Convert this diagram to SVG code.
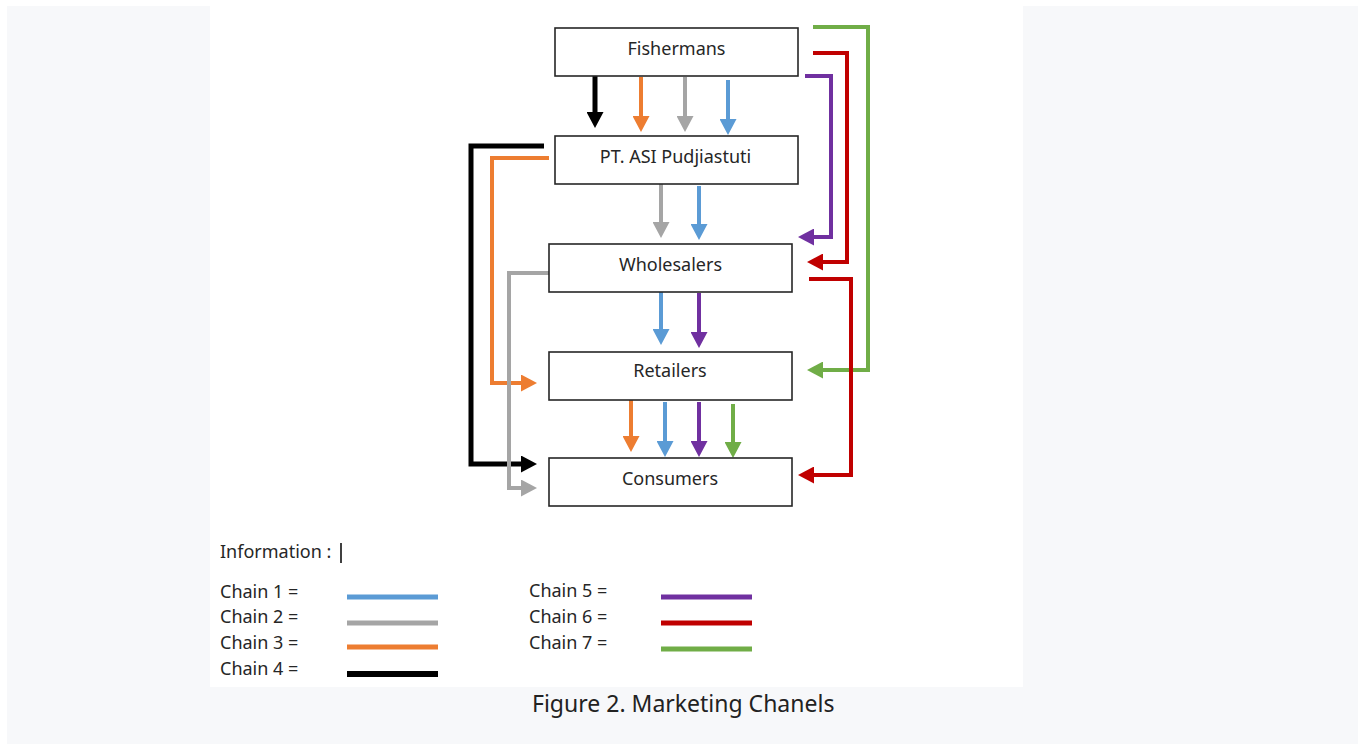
<svg xmlns="http://www.w3.org/2000/svg" width="1361" height="745" viewBox="0 0 1361 745">
<style>
.box{fill:#ffffff;stroke:#262626;stroke-width:1.6}
.lbl{font-family:"Noto Sans",sans-serif;font-size:18px;fill:#262626;text-anchor:middle}
.leg{font-family:"Noto Sans",sans-serif;font-size:18px;fill:#262626}
.cap{font-family:"Noto Sans",sans-serif;font-size:23px;fill:#222222}
.c{fill:none;stroke-width:4;stroke-linejoin:miter}
.c1{stroke:#5b9bd5}.c2{stroke:#a5a5a5}.c3{stroke:#ed7d31}.c4{stroke:#000000;stroke-width:5}
.c5{stroke:#7030a0}.c6{stroke:#c00000}.c7{stroke:#70ad47}
.lg{stroke-width:5}
</style>
<defs>
<marker id="m1" viewBox="0 0 16 17" refX="1" refY="8.5" markerWidth="16" markerHeight="17" markerUnits="userSpaceOnUse" orient="auto"><path d="M0,0 L16,8.5 L0,17 Z" fill="#5b9bd5"/></marker>
<marker id="m2" viewBox="0 0 16 17" refX="1" refY="8.5" markerWidth="16" markerHeight="17" markerUnits="userSpaceOnUse" orient="auto"><path d="M0,0 L16,8.5 L0,17 Z" fill="#a5a5a5"/></marker>
<marker id="m3" viewBox="0 0 16 17" refX="1" refY="8.5" markerWidth="16" markerHeight="17" markerUnits="userSpaceOnUse" orient="auto"><path d="M0,0 L16,8.5 L0,17 Z" fill="#ed7d31"/></marker>
<marker id="m4" viewBox="0 0 16 17" refX="1" refY="8.5" markerWidth="16" markerHeight="17" markerUnits="userSpaceOnUse" orient="auto"><path d="M0,0 L16,8.5 L0,17 Z" fill="#000000"/></marker>
<marker id="m5" viewBox="0 0 16 17" refX="1" refY="8.5" markerWidth="16" markerHeight="17" markerUnits="userSpaceOnUse" orient="auto"><path d="M0,0 L16,8.5 L0,17 Z" fill="#7030a0"/></marker>
<marker id="m6" viewBox="0 0 16 17" refX="1" refY="8.5" markerWidth="16" markerHeight="17" markerUnits="userSpaceOnUse" orient="auto"><path d="M0,0 L16,8.5 L0,17 Z" fill="#c00000"/></marker>
<marker id="m7" viewBox="0 0 16 17" refX="1" refY="8.5" markerWidth="16" markerHeight="17" markerUnits="userSpaceOnUse" orient="auto"><path d="M0,0 L16,8.5 L0,17 Z" fill="#70ad47"/></marker>
</defs>
<rect x="0" y="0" width="1361" height="745" fill="#ffffff"/>
<rect x="7" y="6" width="1351" height="738" fill="#f7f8fa"/>
<rect x="210" y="6" width="813" height="681" fill="#ffffff"/>

<g id="connectors">
<path class="c c4" d="M595,73 V113" marker-end="url(#m4)"/>
<path class="c c3" d="M641,77 V117" marker-end="url(#m3)"/>
<path class="c c2" d="M685,77 V117" marker-end="url(#m2)"/>
<path class="c c1" d="M728,80 V120" marker-end="url(#m1)"/>
<path class="c c2" d="M661,184 V223" marker-end="url(#m2)"/>
<path class="c c1" d="M699,186 V225" marker-end="url(#m1)"/>
<path class="c c1" d="M661,290 V330" marker-end="url(#m1)"/>
<path class="c c5" d="M699,293 V333" marker-end="url(#m5)"/>
<path class="c c3" d="M631,398 V437" marker-end="url(#m3)"/>
<path class="c c1" d="M665,402 V442" marker-end="url(#m1)"/>
<path class="c c5" d="M699,402 V442" marker-end="url(#m5)"/>
<path class="c c7" d="M733,404 V443" marker-end="url(#m7)"/>
<path class="c c4" d="M544,146 H471 V464 H522" marker-end="url(#m4)"/>
<path class="c c3" d="M549,158 H492 V383 H522" marker-end="url(#m3)"/>
<path class="c c2" d="M549,273 H509 V488 H522" marker-end="url(#m2)"/>
<path class="c c7" d="M813,27 H868 V370 H822" marker-end="url(#m7)"/>
<path class="c c6" d="M813,53 H847 V262 H822" marker-end="url(#m6)"/>
<path class="c c5" d="M805,76 H831 V237 H813" marker-end="url(#m5)"/>
<path class="c c6" d="M809,279 H851 V475 H813" marker-end="url(#m6)"/>
</g>

<g id="fishermans"><rect class="box" x="555" y="28" width="243" height="48"/><text class="lbl" x="676.5" y="55">Fishermans</text></g>
<g id="pt-asi"><rect class="box" x="555" y="136" width="243" height="48"/><text class="lbl" x="675.5" y="163">PT. ASI Pudjiastuti</text></g>
<g id="wholesalers"><rect class="box" x="549" y="244" width="243" height="48"/><text class="lbl" x="670.5" y="271">Wholesalers</text></g>
<g id="retailers"><rect class="box" x="549" y="352" width="243" height="48"/><text class="lbl" x="670" y="377">Retailers</text></g>
<g id="consumers"><rect class="box" x="549" y="458" width="243" height="48"/><text class="lbl" x="670" y="485">Consumers</text></g>

<g id="legend">
<text class="leg" x="220" y="558">Information :</text>
<line x1="341" y1="543" x2="341" y2="563" stroke="#000" stroke-width="1.5"/>
<text class="leg" x="220" y="598">Chain 1 =</text>
<text class="leg" x="220" y="623">Chain 2 =</text>
<text class="leg" x="220" y="649">Chain 3 =</text>
<text class="leg" x="220" y="675">Chain 4 =</text>
<text class="leg" x="529" y="597">Chain 5 =</text>
<text class="leg" x="529" y="623">Chain 6 =</text>
<text class="leg" x="529" y="649">Chain 7 =</text>
<line class="c c1 lg" x1="347" y1="597" x2="438" y2="597"/>
<line class="c c2 lg" x1="347" y1="623" x2="438" y2="623"/>
<line class="c c3 lg" x1="347" y1="647" x2="438" y2="647"/>
<line class="c c4 lg" x1="347" y1="674" x2="438" y2="674" style="stroke-width:6"/>
<line class="c c5 lg" x1="661" y1="597" x2="752" y2="597"/>
<line class="c c6 lg" x1="661" y1="623" x2="752" y2="623"/>
<line class="c c7 lg" x1="661" y1="649" x2="752" y2="649"/>
</g>
<text class="cap" x="532" y="712">Figure 2. Marketing Chanels</text>
</svg>
